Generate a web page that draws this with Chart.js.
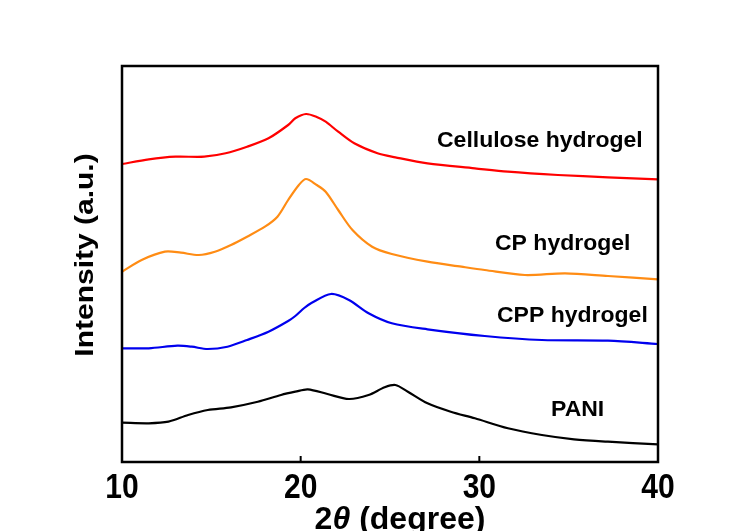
<!DOCTYPE html>
<html>
<head>
<meta charset="utf-8">
<title>XRD patterns</title>
<script src="https://cdn.jsdelivr.net/npm/chart.js@4.4.1/dist/chart.umd.min.js"></script>
<style>
  html, body { margin: 0; padding: 0; background: #ffffff; }
  canvas { display: block; }
</style>
</head>
<body>
<canvas id="xrdChart" width="749" height="531"></canvas>
<script>
// 2theta positions and intensities (a.u., curves offset vertically)
const xTicks = [10, 20, 30, 40];

const celluloseX = [10, 11.5, 13, 14.6, 15.8, 17, 18.2, 19.3, 19.7, 20.3, 20.9, 21.4, 22.1, 23.0, 24.3, 25.3, 27.1, 29.75, 31.6, 34.4, 37.2, 40];
const celluloseY = [298, 302.7, 305.3, 305.3, 308.7, 315.3, 323.7, 337, 343.7, 348, 345, 340.3, 330.3, 318.7, 308.7, 304.7, 298.7, 293.7, 290.3, 287, 284.7, 282.7];

const cpX = [10, 11.1, 12.4, 13.3, 14.3, 15.2, 16.1, 17, 18, 18.7, 19.3, 19.9, 20.3, 20.9, 21.4, 22.1, 22.9, 24.0, 25.1, 27.1, 29, 30.3, 32.55, 34.8, 37.2, 40];
const cpY = [190.3, 202, 210.3, 209.3, 207, 210.3, 217, 225.3, 235.3, 245.3, 262, 277, 283, 277, 270.3, 252, 232, 215.3, 208, 200.3, 195.3, 192, 187, 188.7, 186, 182.7];

const cppX = [10, 11.5, 13.1, 13.9, 14.8, 15.9, 17, 18.2, 19.3, 19.7, 20.2, 20.6, 21.7, 22.7, 23.8, 25.1, 27.1, 30.3, 33.5, 37.2, 40];
const cppY = [113.7, 113.7, 116.3, 115.3, 113, 115.3, 122, 130.3, 141, 146, 154, 159, 168, 162, 148.7, 138.7, 132.7, 126, 122, 121.3, 118];

const paniX = [10, 11.5, 12.6, 13.7, 14.8, 16.1, 17.6, 18.9, 19.7, 20.4, 21.5, 22.7, 23.8, 24.7, 25.3, 26.0, 27.1, 28.4, 29.75, 31.6, 33.5, 35.3, 37.2, 40];
const paniY = [39.3, 38.7, 40.3, 47, 52, 54.7, 60.3, 67, 70.3, 72.7, 68, 63, 67, 74.7, 77, 70.3, 58.7, 50.3, 43.7, 33.7, 27, 22.7, 20.3, 17.7];

const seriesNames = ['Cellulose hydrogel', 'CP hydrogel', 'CPP hydrogel', 'PANI'];
const seriesColors = ['#ff0000', '#ff8c14', '#0000ee', '#000000'];

function toPoints(xs, ys) {
    return xs.map((x, i) => ({ x: x, y: ys[i] }));
}

const FONT = '"Liberation Sans", Arial, sans-serif';

// draw a piece of text with an optional stretch and rotation
function drawText(ctx, text, x, y, opts) {
    ctx.save();
    ctx.translate(x, y);
    if (opts.rotate) ctx.rotate(opts.rotate);
    ctx.scale(opts.sx || 1, opts.sy || 1);
    ctx.font = opts.font;
    ctx.fillStyle = '#000000';
    ctx.textAlign = opts.align || 'left';
    ctx.textBaseline = 'alphabetic';
    ctx.fillText(text, 0, 0);
    ctx.restore();
}

// frame, inward ticks, tick labels, axis titles and curve labels
const framePlugin = {
    id: 'framePlugin',
    afterDraw(chart) {
        const ctx = chart.ctx;
        const area = chart.chartArea;
        const xs = chart.scales.x;

        ctx.save();
        ctx.strokeStyle = '#000000';
        ctx.lineWidth = 2.5;
        ctx.strokeRect(area.left, area.top, area.right - area.left, area.bottom - area.top);

        // small inward ticks on the bottom axis
        ctx.lineWidth = 2;
        xTicks.forEach(v => {
            const px = xs.getPixelForValue(v);
            ctx.beginPath();
            ctx.moveTo(px, area.bottom);
            ctx.lineTo(px, area.bottom - 6);
            ctx.stroke();
        });
        ctx.restore();

        // tick labels
        xTicks.forEach(v => {
            drawText(ctx, String(v), xs.getPixelForValue(v), 498, {
                font: 'bold 30px ' + FONT, align: 'center', sy: 1.17
            });
        });

        // x title: 2θ (degree), with italic theta
        ctx.save();
        const f1 = 'bold 32px ' + FONT;
        const f2 = 'italic bold 32px ' + FONT;
        ctx.font = f1;
        const w2 = ctx.measureText('2').width;
        const wRest = ctx.measureText(' (degree)').width;
        ctx.font = f2;
        const wTh = ctx.measureText('θ').width;
        ctx.restore();
        let tx = (xs.left + xs.right) / 2 + 10 - (w2 + wTh + wRest) / 2;
        drawText(ctx, '2', tx, 529, { font: f1 });
        drawText(ctx, 'θ', tx + w2, 529, { font: f2 });
        drawText(ctx, ' (degree)', tx + w2 + wTh, 529, { font: f1 });

        // y title
        drawText(ctx, 'Intensity (a.u.)', 93, 255, {
            font: 'bold 25px ' + FONT, align: 'center', rotate: -Math.PI / 2, sx: 1.2
        });

        // curve labels
        const labelPos = [[437, 147], [495, 250], [497, 322], [551, 416]];
        seriesNames.forEach((name, i) => {
            drawText(ctx, name, labelPos[i][0], labelPos[i][1], {
                font: 'bold 23px ' + FONT, sy: 0.93
            });
        });
    }
};

const ySeries = [celluloseY, cpY, cppY, paniY];
const xSeries = [celluloseX, cpX, cppX, paniX];

const datasets = seriesNames.map((name, i) => ({
    label: name,
    data: toPoints(xSeries[i], ySeries[i]),
    borderColor: seriesColors[i],
    backgroundColor: seriesColors[i],
    borderWidth: 2.2,
    pointRadius: 0,
    tension: 0.3,
    fill: false
}));

new Chart(document.getElementById('xrdChart').getContext('2d'), {
    type: 'line',
    data: { datasets: datasets },
    options: {
        responsive: false,
        animation: false,
        layout: {
            padding: { left: 122, right: 91, top: 66, bottom: 69 }
        },
        plugins: {
            legend: { display: false },
            tooltip: { enabled: false }
        },
        scales: {
            x: { type: 'linear', min: 10, max: 40, display: false },
            y: { type: 'linear', min: 0, max: 396, display: false }
        }
    },
    plugins: [framePlugin]
});
</script>
</body>
</html>
